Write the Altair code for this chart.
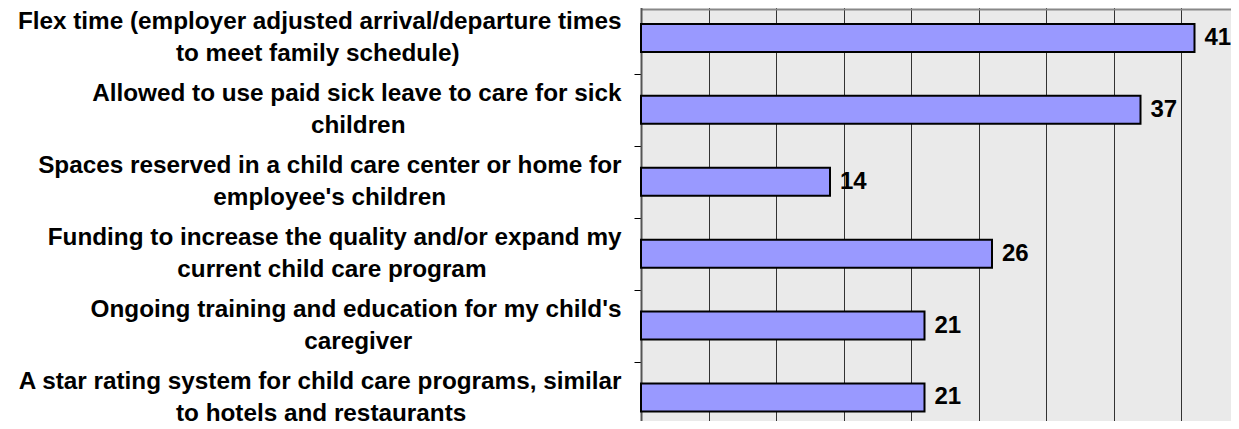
import altair as alt
import pandas as pd

# ---- data -------------------------------------------------------------
line1 = [
    "Flex time (employer adjusted arrival/departure times",
    "Allowed to use paid sick leave to care for sick",
    "Spaces reserved in a child care center or home for",
    "Funding to increase the quality and/or expand my",
    "Ongoing training and education for my child's",
    "A star rating system for child care programs, similar",
]
line2 = [
    "to meet family schedule)",
    "children",
    "employee's children",
    "current child care program",
    "caregiver",
    "to hotels and restaurants",
]
values = [41, 37, 14, 26, 21, 21]
x_ticks = [0, 5, 10, 15, 20, 25, 30, 35, 40, 45]

# ---- centre the second label line under the first (bold Arial metrics) --
W = {" ": 278, "'": 238, "(": 333, ")": 333, ",": 278, "/": 278,
     "A": 722, "F": 611, "S": 667, "O": 722,
     "a": 556, "b": 611, "c": 556, "d": 611, "e": 556, "f": 333, "g": 611,
     "h": 611, "i": 278, "j": 278, "k": 556, "l": 278, "m": 889, "n": 611,
     "o": 611, "p": 611, "q": 611, "r": 389, "s": 556, "t": 333, "u": 611,
     "v": 556, "w": 778, "x": 556, "y": 556, "z": 500}


def text_width(s):
    return sum(W.get(c, 556) for c in s)


NBSP = "\u00a0"
ZWSP = "\u200b"   # keeps the padding from being trimmed
labels = []
for a, b in zip(line1, line2):
    n = round((text_width(a) - text_width(b)) / 2 / 278)
    labels.append(a + "|" + b + NBSP * n + ZWSP)

df = pd.DataFrame({"label": labels, "value": values})

FONT = "Liberation Sans"

y_enc = alt.Y(
    "label:N", sort=labels, title=None,
    scale=alt.Scale(range=[-7, 424.4], paddingInner=0.61, paddingOuter=0.305),
    axis=alt.Axis(
        labelExpr="split(datum.label, '|')",
        labelFont=FONT, labelFontSize=24.3, labelFontWeight="bold",
        labelColor="black", labelLineHeight=32, labelPadding=13,
        tickOffset=36, labelOffset=-52,
        labelLimit=0, tickSize=7, tickColor="black", tickWidth=1,
        domainColor="#555555", domainWidth=2, grid=False,
    ),
)
x_enc = alt.X(
    "value:Q", title=None,
    scale=alt.Scale(domain=[0, 45], range=[0, 607.5], nice=False, zero=True),
    axis=alt.Axis(
        orient="top", values=x_ticks, labels=False, ticks=False,
        domainColor="#888888", domainWidth=2,
        grid=True, gridColor="#333333", gridWidth=1,
    ),
)

base = alt.Chart(df)
bars = base.mark_bar(fill="#9999FF", stroke="black", strokeWidth=2).encode(
    x=x_enc, y=y_enc
)
text = base.mark_text(
    align="left", baseline="middle", dx=10, font=FONT, fontSize=24,
    fontWeight="bold", color="black",
).encode(
    x="value:Q",
    y=alt.Y("label:N", sort=labels),
    text="value:Q",
)

chart = (
    (bars + text)
    .properties(
        width=590, height=412,
        padding={"left": 633, "top": 1, "right": 0, "bottom": 0},
        autosize=alt.AutoSizeParams(type="none"),
    )
    .configure_view(fill="#EAEAEA", stroke=None)
)

chart.save("out.html", embed_options={"renderer": "svg", "actions": False})
